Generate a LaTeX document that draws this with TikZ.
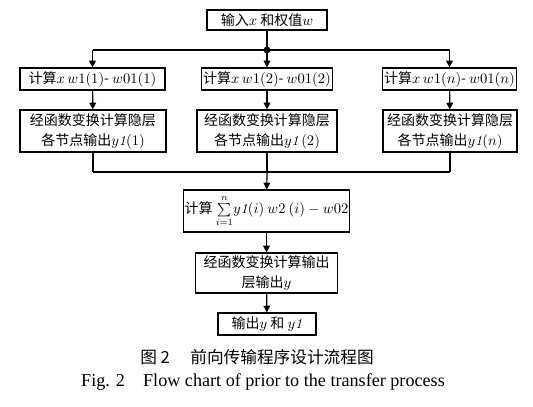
\documentclass[tikz,border=0pt]{standalone}
\usepackage{fontspec}
\newfontfamily\cjk{Noto Sans CJK SC}
\newfontfamily\capfont{Liberation Serif}
\usetikzlibrary{arrows.meta,positioning,calc}

\begin{document}
\begin{tikzpicture}[x=0.75pt,y=-0.75pt,
  box/.style={draw,line width=0.9pt,font=\cjk\fontsize{10.5}{15}\selectfont,
    align=center,inner sep=1pt},
  flow/.style={line width=0.9pt,-{Triangle[length=5pt,width=5pt]}},
  link/.style={line width=0.9pt},
  captext/.style={inner sep=0pt},
]
  \useasboundingbox (0,0) rectangle (533,407);

  % input
  \node[box,minimum width=90pt,minimum height=15pt] (in) at (267,20) {输入$x$ 和权值$w$};

  % hidden layer, three columns
  \node[box,minimum width=108.75pt,minimum height=16.5pt] (calc1) at (92.5,79) {计算$x\,w1(1)$- $w01(1)$};
  \node[box,minimum width=90pt,minimum height=16.5pt] (calc2) at (267,79) {计算$x\,w1(2)$- $w01(2)$};
  \node[box,minimum width=100pt,minimum height=16.5pt] (calcn) at (449.5,79) {计算$x\,w1(n)$- $w01(n)$};

  \node[box,minimum width=109.5pt,minimum height=31.5pt] (hid1) at (93,131) {经函数变换计算隐层\\各节点输出$y\mathit{1}(1)$};
  \node[box,minimum width=105pt,minimum height=31.5pt] (hid2) at (267,131) {经函数变换计算隐层\\各节点输出$y\mathit{1}\,(2)$};
  \node[box,minimum width=100.5pt,minimum height=31.5pt] (hidn) at (450,131) {经函数变换计算隐层\\各节点输出$y\mathit{1}(n)$};

  % output layer
  \node[box,minimum width=125pt,minimum height=31.5pt] (sum) at (266.5,211)
    {计算\ $\sum\limits_{i=1}^{n}\! y\mathit{1}(i)\ w2\ (i) - w02$};
  \node[box,minimum width=107pt,minimum height=30pt] (outl) at (266.5,273) {经函数变换计算输出\\层输出$y$};
  \node[box,minimum width=73.5pt,minimum height=16.5pt] (res) at (267,324) {输出$y$ 和 $y\mathit{1}$};

  % branch and join points
  \coordinate (split) at (267,50);
  \coordinate (join) at (267,172);

  \draw[link] (in) -- (split);
  \fill (split) circle (2.6pt);
  \draw[link] (split -| calc1) -- (split -| calcn);
  \foreach \n in {calc1,calc2,calcn}
    \draw[flow] (split -| \n) -- (\n.north);

  \draw[flow] (calc1) -- (hid1);
  \draw[flow] (calc2) -- (hid2);
  \draw[flow] (calcn) -- (hidn);

  \foreach \n in {hid1,hid2,hidn}
    \draw[link] (\n.south) -- (join -| \n);
  \draw[link] (join -| hid1) -- (join -| hidn);
  \draw[flow] (join) -- (sum);

  \draw[flow] (sum) -- (outl);
  \draw[flow] (outl) -- (res);

  % caption
  \node[captext,font=\cjk\fontsize{12.5}{14}\selectfont] (capzh) at (257,357) {图 2\quad\ 前向传输程序设计流程图};
  \node[captext,font=\capfont\fontsize{13.6}{15}\selectfont] (capen) at (263,382) {Fig. 2\quad Flow chart of prior to the transfer process};
\end{tikzpicture}
\end{document}
